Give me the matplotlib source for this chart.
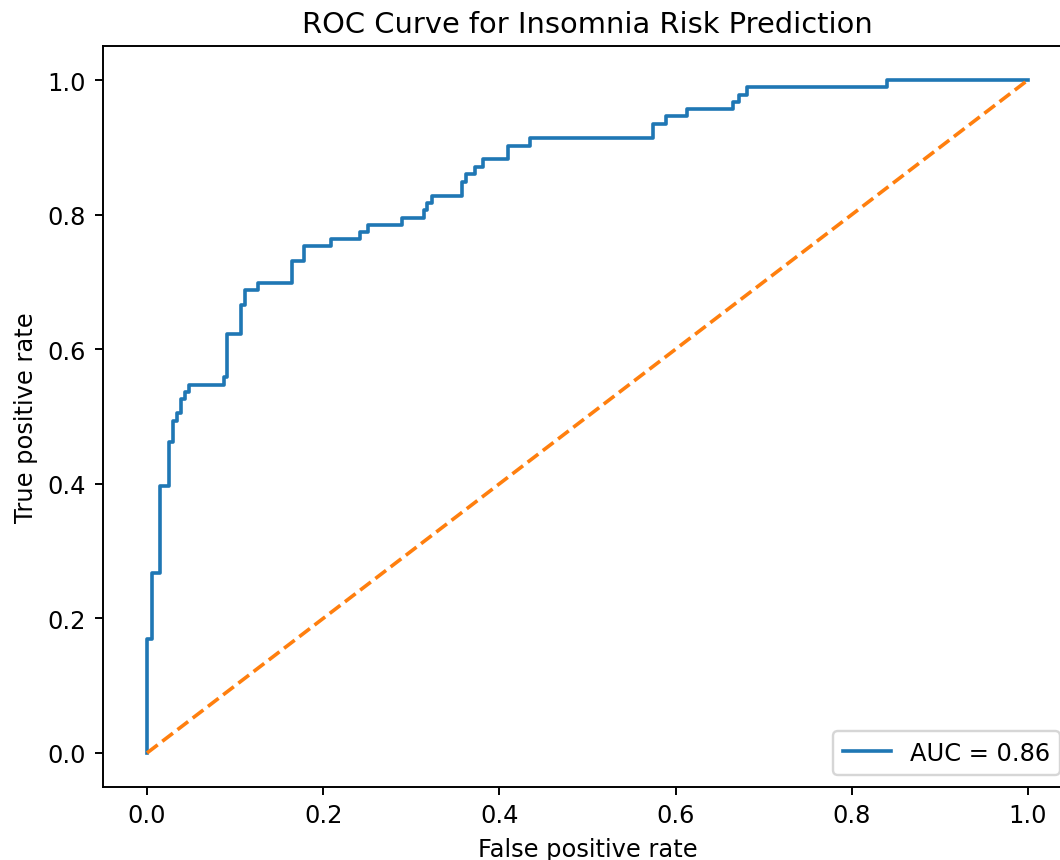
import matplotlib
matplotlib.use("Agg")
import matplotlib.pyplot as plt

# ROC curve points (step vertices)
fpr = [0.0, 0.0, 0.0057, 0.0057, 0.0148, 0.0148, 0.0246, 0.0246, 0.030, 0.030,
       0.034, 0.034, 0.039, 0.039, 0.0435, 0.0435, 0.0477, 0.0477, 0.0874, 0.0874,
       0.0912, 0.0912, 0.107, 0.107, 0.111, 0.111, 0.1256, 0.1256, 0.165, 0.165,
       0.1786, 0.1786, 0.2085, 0.2085, 0.2418, 0.2418, 0.2512, 0.2512, 0.2898, 0.2898,
       0.3144, 0.3144, 0.318, 0.318, 0.3235, 0.3235, 0.357, 0.357, 0.3617, 0.3617,
       0.372, 0.372, 0.3818, 0.3818, 0.410, 0.410, 0.4347, 0.4347, 0.5747, 0.5747,
       0.589, 0.589, 0.6126, 0.6126, 0.6655, 0.6655, 0.672, 0.672, 0.6807, 0.6807,
       0.840, 0.840, 1.0]
tpr = [0.0, 0.170, 0.170, 0.267, 0.267, 0.397, 0.397, 0.462, 0.462, 0.494,
       0.494, 0.505, 0.505, 0.526, 0.526, 0.537, 0.537, 0.547, 0.547, 0.558,
       0.558, 0.623, 0.623, 0.666, 0.666, 0.688, 0.688, 0.698, 0.698, 0.731,
       0.731, 0.753, 0.753, 0.764, 0.764, 0.774, 0.774, 0.784, 0.784, 0.795,
       0.795, 0.807, 0.807, 0.817, 0.817, 0.828, 0.828, 0.849, 0.849, 0.860,
       0.860, 0.871, 0.871, 0.882, 0.882, 0.902, 0.902, 0.914, 0.914, 0.935,
       0.935, 0.946, 0.946, 0.957, 0.957, 0.967, 0.967, 0.978, 0.978, 0.989,
       0.989, 1.0, 1.0]
chance = [0.0, 1.0]
auc_label = "AUC = 0.86"

DPI = 173.5
fig = plt.figure(figsize=(1060 / DPI, 861 / DPI), dpi=DPI)
ax = fig.add_axes([103 / 1060, (861 - 787.6) / 861, (1072 - 103) / 1060, (787.6 - 47.4) / 861])
ax.plot(fpr, tpr, lw=1.5, color="#1f77b4", label=auc_label)
ax.plot(chance, chance, "--", lw=1.5, color="#ff7f0e")
ax.set_xlabel("False positive rate")
ax.set_ylabel("True positive rate")
ax.set_title("ROC Curve for Insomnia Risk Prediction")
ax.legend(loc="lower right")
fig.savefig("out.png", dpi=DPI)
